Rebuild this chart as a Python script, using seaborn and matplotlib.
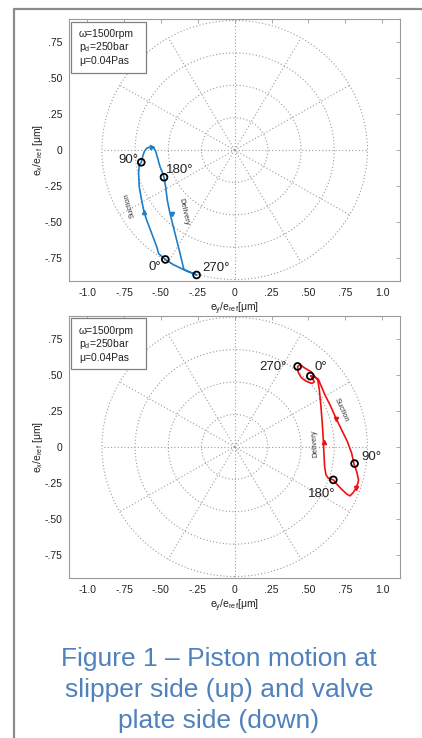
"""
Piston motion at slipper side (up) and valve plate side (down)
Polar-grid trajectory plots recreated with seaborn / matplotlib
"""

import numpy as np
import pandas as pd
import matplotlib
matplotlib.use('Agg')
import matplotlib.pyplot as plt
from matplotlib.patches import Rectangle, Circle
import seaborn as sns

# ---- data: slipper side (top plot) ----
top_x = [-0.470, -0.515, -0.529, -0.563, -0.597, -0.615, -0.631, -0.647, -0.651, -0.647,
         -0.633, -0.624, -0.613, -0.597, -0.574, -0.552, -0.536, -0.525, -0.506, -0.488,
         -0.479, -0.468, -0.457, -0.439, -0.405, -0.371, -0.344, -0.258, -0.344, -0.416,
         -0.470]
top_y = [-0.760, -0.720, -0.670, -0.577, -0.485, -0.427, -0.346, -0.254, -0.161, -0.104,
         -0.085, -0.046, -0.012, 0.012, 0.021, 0.016, -0.005, -0.046, -0.116, -0.161,
         -0.189, -0.254, -0.346, -0.438, -0.577, -0.715, -0.831, -0.868, -0.831, -0.796,
         -0.760]
top_mark_x = [-0.470, -0.633, -0.479, -0.258]
top_mark_y = [-0.760, -0.085, -0.189, -0.868]
top_mark_lbl = ['0°', '90°', '180°', '270°']
top_arrow_x = [-0.563, -0.617, -0.427]
top_arrow_y = [0.018, -0.430, -0.445]
top_arrow_dir = ['>', '^', 'v']

# ---- data: valve plate side (bottom plot) ----
bot_x = [0.517, 0.544, 0.567, 0.583, 0.612, 0.646, 0.687, 0.725, 0.764, 0.793,
         0.809, 0.827, 0.840, 0.836, 0.820, 0.804, 0.782, 0.759, 0.725, 0.691,
         0.669, 0.635, 0.619, 0.610, 0.605, 0.601, 0.594, 0.585, 0.574, 0.563,
         0.545, 0.520, 0.477, 0.443, 0.427, 0.430, 0.450, 0.485, 0.525, 0.540,
         0.517]
bot_y = [0.493, 0.484, 0.470, 0.431, 0.361, 0.292, 0.199, 0.118, 0.037, -0.044,
         -0.118, -0.171, -0.230, -0.250, -0.290, -0.317, -0.340, -0.327, -0.294, -0.257,
         -0.229, -0.218, -0.194, -0.137, -0.044, 0.049, 0.164, 0.280, 0.396, 0.465,
         0.485, 0.520, 0.546, 0.569, 0.558, 0.520, 0.482, 0.455, 0.440, 0.452,
         0.493]
bot_mark_x = [0.513, 0.813, 0.669, 0.427]
bot_mark_y = [0.491, -0.116, -0.229, 0.558]
bot_mark_lbl = ['0°', '90°', '180°', '270°']
bot_arrow_x = [0.687, 0.822, 0.605]
bot_arrow_y = [0.190, -0.287, 0.037]
bot_arrow_dir = ['v', 'v', '^']

# operating point text
op_lines = ['ω=1500rpm', 'p$_\\mathregular{d}$=250bar', 'μ=0.04Pas']

ticks_x = [-1.0, -0.75, -0.5, -0.25, 0, 0.25, 0.5, 0.75, 1.0]
ticks_x_lbl = ['-1.0', '-.75', '-.50', '-.25', '0', '.25', '.50', '.75', '1.0']
ticks_y = [0.75, 0.5, 0.25, 0, -0.25, -0.5, -0.75]
ticks_y_lbl = ['.75', '.50', '.25', '0', '-.25', '-.50', '-.75']

grid_r = [0.225, 0.45, 0.675, 0.9]
grid_ang = np.arange(0, 360, 30)

sns.set_style('white')
plt.rcParams['font.family'] = ['Liberation Sans', 'DejaVu Sans']
plt.rcParams['mathtext.fontset'] = 'custom'
plt.rcParams['mathtext.rm'] = 'Liberation Sans'

FRAME = '#9a9a9a'
TXT = '#222222'
GRID_LS = (0, (1, 2))


def polar_grid(ax):
    """Dotted polar grid centred on the origin"""
    for r in grid_r:
        ax.add_patch(Circle((0, 0), r, fill=False, ls=GRID_LS,
                            lw=0.8, ec='#9c9c9c', zorder=1))
    for a in grid_ang:
        t = np.deg2rad(a)
        ax.plot([0, grid_r[-1] * np.cos(t)], [0, grid_r[-1] * np.sin(t)],
                ls=GRID_LS, lw=0.8, color='#9c9c9c', zorder=1)


def style_axes(ax, xlabel, ylabel):
    ax.set_xlim(-1.123, 1.121)
    ax.set_ylim(-0.91, 0.91)
    ax.set_xticks(ticks_x)
    ax.set_xticklabels(ticks_x_lbl)
    ax.set_yticks(ticks_y)
    ax.set_yticklabels(ticks_y_lbl)
    ax.tick_params(direction='in', length=3, width=0.6, color=FRAME,
                   labelsize=7.5, labelcolor=TXT, top=True, right=True, pad=5)
    for s in ax.spines.values():
        s.set_color(FRAME)
        s.set_linewidth(0.8)
    ax.set_xlabel(xlabel, fontsize=7.5, color=TXT, labelpad=2)
    ax.set_ylabel(ylabel, fontsize=7.5, color=TXT, labelpad=-1)
    # operating point box
    ax.add_patch(Rectangle((0.006, 0.795), 0.226, 0.195, transform=ax.transAxes,
                           fill=True, fc='white', ec='#808080', lw=0.9, zorder=5))
    for yy, line in zip([0.942, 0.894, 0.840], op_lines):
        ax.text(0.030, yy, line, transform=ax.transAxes, fontsize=7.5,
                color=TXT, va='center', ha='left', zorder=6)


def trajectory(ax, xs, ys, color, mx, my, ax_, ay_, adir):
    df = pd.DataFrame({'x': xs, 'y': ys})
    sns.lineplot(data=df, x='x', y='y', sort=False, estimator=None,
                 color=color, lw=1.2, ax=ax, zorder=3)
    for x, y, m in zip(ax_, ay_, adir):
        ax.plot(x, y, marker=m, ms=3, color=color, mec=color, zorder=4)
    marks = pd.DataFrame({'x': mx, 'y': my})
    sns.scatterplot(data=marks, x='x', y='y', s=24, facecolor='none',
                    edgecolor='black', linewidth=1.3, ax=ax, zorder=6)


fig = plt.figure(figsize=(4.22, 7.38), dpi=100)

xlab = 'e$_\\mathregular{y}$/e$_\\mathregular{ref}$[μm]'
ylab = 'e$_\\mathregular{x}$/e$_\\mathregular{ref}$ [μm]'

# ---- top: slipper side ----
ax1 = fig.add_axes([0.1635, 0.6192, 0.7844, 0.3550])
polar_grid(ax1)
trajectory(ax1, top_x, top_y, '#1f7fc6', top_mark_x, top_mark_y,
           top_arrow_x, top_arrow_y, top_arrow_dir)
style_axes(ax1, xlab, ylab)
ax1.text(-0.656, -0.069, top_mark_lbl[1], fontsize=9.5, ha='right', va='center', color=TXT)
ax1.text(-0.466, -0.139, top_mark_lbl[2], fontsize=9.5, ha='left', va='center', color=TXT)
ax1.text(-0.500, -0.815, top_mark_lbl[0], fontsize=9.5, ha='right', va='center', color=TXT)
ax1.text(-0.222, -0.822, top_mark_lbl[3], fontsize=9.5, ha='left', va='center', color=TXT)
ax1.text(-0.710, -0.381, 'Suction', fontsize=5.5, rotation=106, ha='center',
         va='center', color='#333333', rotation_mode='anchor')
ax1.text(-0.348, -0.427, 'Delivery', fontsize=5.5, rotation=-78, ha='center',
         va='center', color='#333333', rotation_mode='anchor')

# ---- bottom: valve plate side ----
ax2 = fig.add_axes([0.1635, 0.2168, 0.7844, 0.3554])
polar_grid(ax2)
trajectory(ax2, bot_x, bot_y, '#f01010', bot_mark_x, bot_mark_y,
           bot_arrow_x, bot_arrow_y, bot_arrow_dir)
style_axes(ax2, xlab, ylab)
ax2.text(0.353, 0.551, bot_mark_lbl[3], fontsize=9.5, ha='right', va='center', color=TXT)
ax2.text(0.538, 0.551, bot_mark_lbl[0], fontsize=9.5, ha='left', va='center', color=TXT)
ax2.text(0.861, -0.067, bot_mark_lbl[1], fontsize=9.5, ha='left', va='center', color=TXT)
ax2.text(0.590, -0.330, bot_mark_lbl[2], fontsize=9.5, ha='center', va='center', color=TXT)
ax2.text(0.725, 0.257, 'Suction', fontsize=5.5, rotation=-66, ha='center',
         va='center', color='#333333', rotation_mode='anchor')
ax2.text(0.542, 0.026, 'Delivery', fontsize=5.5, rotation=94, ha='center',
         va='center', color='#333333', rotation_mode='anchor')

# ---- page frame and caption ----
fig.add_artist(plt.Line2D([14 / 422, 14 / 422], [0, 1 - 9 / 738], color='#8c8c8c',
                          lw=1.6, transform=fig.transFigure))
fig.add_artist(plt.Line2D([14 / 422, 1], [1 - 9 / 738, 1 - 9 / 738], color='#8c8c8c',
                          lw=1.6, transform=fig.transFigure))
caption = ['Figure 1 – Piston motion at', 'slipper side (up) and valve', 'plate side (down)']
for k, line in enumerate(caption):
    fig.text(219 / 422, 1 - (659 + 31 * k) / 738, line, fontsize=19,
             color='#4f81bd', ha='center', va='center')

fig.savefig('out.png', dpi=100)
